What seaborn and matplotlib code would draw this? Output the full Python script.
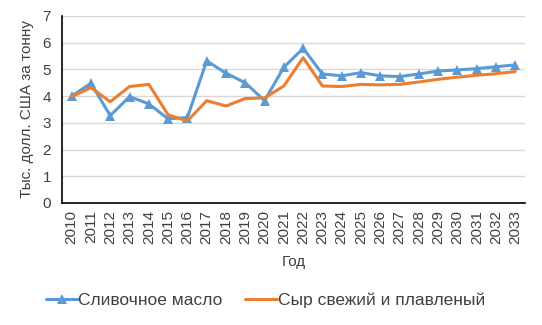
import matplotlib
matplotlib.use("Agg")
import matplotlib.pyplot as plt
import seaborn as sns
import pandas as pd

years = [str(y) for y in range(2010, 2034)]
butter = [4.0, 4.48, 3.27, 3.98, 3.71, 3.15, 3.2, 5.32, 4.86, 4.5, 3.83, 5.08,
          5.79, 4.83, 4.76, 4.88, 4.76, 4.73, 4.83, 4.94, 4.98, 5.03, 5.1, 5.17]
cheese = [3.98, 4.32, 3.79, 4.36, 4.44, 3.3, 3.07, 3.83, 3.63, 3.91, 3.93, 4.38,
          5.44, 4.38, 4.36, 4.44, 4.42, 4.44, 4.53, 4.63, 4.71, 4.78, 4.84, 4.92]
series_names = ["Сливочное масло", "Сыр свежий и плавленый"]
y_ticks = [0, 1, 2, 3, 4, 5, 6, 7]

sns.set_theme(style="white")
plt.rcParams['font.family'] = ['Liberation Sans', 'DejaVu Sans']

df_b = pd.DataFrame({"Год": years, "val": butter})
df_c = pd.DataFrame({"Год": years, "val": cheese})

fig = plt.figure(figsize=(5.42, 3.25), dpi=100)
ax = fig.add_axes([0.1144, 0.3754, 0.8542, 0.5754])

sns.lineplot(data=df_b, x="Год", y="val", color="#5B9BD5", marker="^", linewidth=2.2,
             markersize=7, markeredgewidth=0, ax=ax, label=series_names[0])
sns.lineplot(data=df_c, x="Год", y="val", color="#ED7D31", linewidth=2.2,
             ax=ax, label=series_names[1])

ax.set_ylim(0, 7)
ax.set_yticks(y_ticks)
ax.set_xlim(-0.5, len(years) - 0.5)
ax.yaxis.grid(True, color="#D9D9D9", linewidth=1)
ax.set_axisbelow(True)
for s in ["top", "right"]:
    ax.spines[s].set_visible(False)
for s in ["left", "bottom"]:
    ax.spines[s].set_color("black")
    ax.spines[s].set_linewidth(1.2)
ax.tick_params(axis="x", rotation=90, labelsize=11, length=0, pad=5, colors="#404040")
ax.tick_params(axis="y", labelsize=11, length=0, pad=8, colors="#404040")
ax.set_ylabel("Тыс. долл. США за тонну", fontsize=11, color="#404040", labelpad=6)
ax.set_xlabel("Год", fontsize=11, color="#404040", labelpad=8)

handles, labels = ax.get_legend_handles_labels()
ax.legend(handles, labels, loc="center", bbox_to_anchor=(0.49, 0.075), bbox_transform=fig.transFigure,
          ncol=2, frameon=False, fontsize=12.5, handlelength=1.8, handletextpad=0.05, columnspacing=1.3,
          labelcolor="#404040")

fig.savefig("out.png", dpi=100)
